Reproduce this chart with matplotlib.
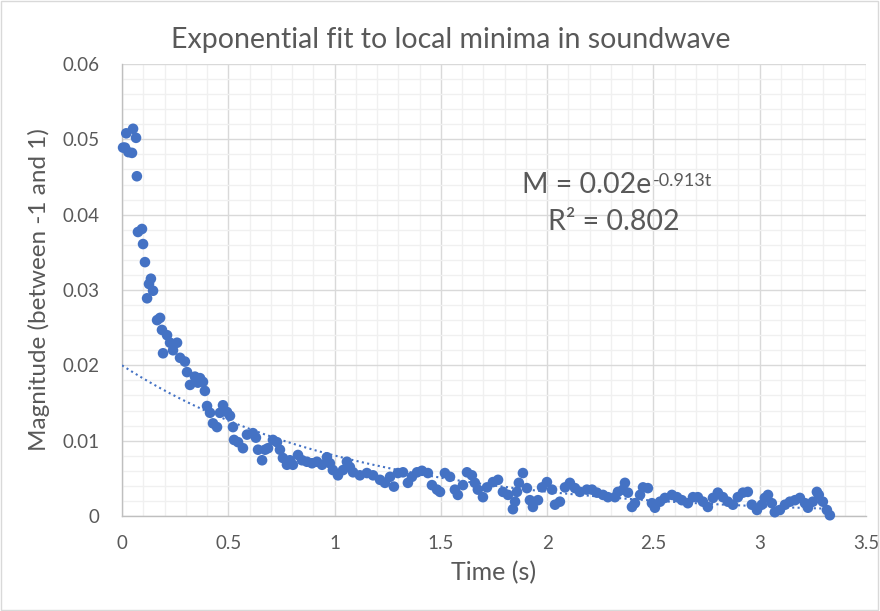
import numpy as np
import matplotlib
matplotlib.use("Agg")
import matplotlib.pyplot as plt
from matplotlib.ticker import MultipleLocator, FixedLocator
from matplotlib.patches import Rectangle

plt.rcParams['font.family'] = ['Lato', 'DejaVu Sans']

# local minima: time (s), magnitude
time_s = [0.005, 0.014, 0.020, 0.030, 0.047, 0.052, 0.066, 0.070, 0.075, 0.094,
          0.099, 0.108, 0.118, 0.127, 0.136, 0.146, 0.165, 0.179, 0.188, 0.193,
          0.212, 0.226, 0.240, 0.259, 0.273, 0.296, 0.306, 0.320, 0.343, 0.357,
          0.367, 0.381, 0.390, 0.400, 0.414, 0.428, 0.447, 0.461, 0.475, 0.494,
          0.508, 0.522, 0.527, 0.546, 0.569, 0.588, 0.616, 0.630, 0.640, 0.659,
          0.673, 0.687, 0.710, 0.729, 0.743, 0.757, 0.776, 0.790, 0.804, 0.828,
          0.847, 0.870, 0.894, 0.917, 0.941, 0.964, 0.978, 0.992, 1.016, 1.040,
          1.058, 1.072, 1.087, 1.119, 1.152, 1.181, 1.214, 1.237, 1.261, 1.279,
          1.298, 1.322, 1.345, 1.364, 1.388, 1.411, 1.439, 1.458, 1.482, 1.496,
          1.519, 1.543, 1.566, 1.580, 1.604, 1.623, 1.646, 1.660, 1.674, 1.698,
          1.717, 1.745, 1.769, 1.792, 1.816, 1.839, 1.849, 1.858, 1.867, 1.886,
          1.905, 1.919, 1.933, 1.957, 1.976, 1.999, 2.023, 2.037, 2.060, 2.084,
          2.107, 2.131, 2.154, 2.187, 2.211, 2.234, 2.263, 2.286, 2.319, 2.333,
          2.357, 2.366, 2.380, 2.399, 2.413, 2.437, 2.451, 2.474, 2.493, 2.507,
          2.531, 2.554, 2.587, 2.611, 2.634, 2.662, 2.686, 2.709, 2.733, 2.756,
          2.780, 2.803, 2.827, 2.850, 2.874, 2.897, 2.921, 2.944, 2.963, 2.987,
          3.010, 3.024, 3.039, 3.057, 3.071, 3.095, 3.119, 3.142, 3.166, 3.189,
          3.213, 3.227, 3.250, 3.269, 3.278, 3.297, 3.316, 3.330]
magnitude = [0.0489, 0.0489, 0.0508, 0.0483, 0.0482, 0.0514, 0.0502, 0.0451, 0.0377, 0.0381,
             0.0361, 0.0337, 0.0289, 0.0308, 0.0315, 0.0299, 0.0260, 0.0263, 0.0247, 0.0216,
             0.0240, 0.0230, 0.0220, 0.0230, 0.0210, 0.0205, 0.0191, 0.0174, 0.0185, 0.0177,
             0.0183, 0.0178, 0.0166, 0.0146, 0.0137, 0.0123, 0.0118, 0.0137, 0.0147, 0.0138,
             0.0133, 0.0118, 0.0101, 0.0098, 0.0090, 0.0108, 0.0110, 0.0104, 0.0088, 0.0074,
             0.0088, 0.0090, 0.0101, 0.0098, 0.0088, 0.0077, 0.0068, 0.0074, 0.0068, 0.0081,
             0.0074, 0.0072, 0.0070, 0.0072, 0.0068, 0.0078, 0.0070, 0.0061, 0.0054, 0.0061,
             0.0072, 0.0065, 0.0058, 0.0054, 0.0057, 0.0054, 0.0048, 0.0044, 0.0052, 0.0039,
             0.0057, 0.0058, 0.0044, 0.0052, 0.0058, 0.0060, 0.0057, 0.0041, 0.0035, 0.0032,
             0.0057, 0.0052, 0.0035, 0.0028, 0.0041, 0.0058, 0.0054, 0.0044, 0.0035, 0.0025,
             0.0038, 0.0045, 0.0048, 0.0032, 0.0028, 0.0009, 0.0019, 0.0032, 0.0044, 0.0057,
             0.0037, 0.0021, 0.0012, 0.0021, 0.0038, 0.0045, 0.0035, 0.0015, 0.0019, 0.0038,
             0.0044, 0.0037, 0.0032, 0.0035, 0.0035, 0.0031, 0.0028, 0.0025, 0.0025, 0.0032,
             0.0035, 0.0044, 0.0031, 0.0012, 0.0017, 0.0028, 0.0038, 0.0037, 0.0017, 0.0011,
             0.0019, 0.0024, 0.0028, 0.0025, 0.0021, 0.0017, 0.0025, 0.0025, 0.0019, 0.0012,
             0.0024, 0.0031, 0.0025, 0.0019, 0.0015, 0.0025, 0.0031, 0.0032, 0.0015, 0.0008,
             0.0015, 0.0024, 0.0028, 0.0017, 0.0005, 0.0008, 0.0015, 0.0019, 0.0021, 0.0024,
             0.0017, 0.0011, 0.0019, 0.0032, 0.0028, 0.0019, 0.0008, 0.0001]

# exponential trendline coefficients (as reported on chart)
fit_a = 0.02
fit_k = -0.913
fit_r2 = 0.802

x_ticks = [0, 0.5, 1, 1.5, 2, 2.5, 3, 3.5]
x_tick_labels = ['0', '0.5', '1', '1.5', '2', '2.5', '3', '3.5']
y_ticks = [0, 0.01, 0.02, 0.03, 0.04, 0.05, 0.06]
y_tick_labels = ['0', '0.01', '0.02', '0.03', '0.04', '0.05', '0.06']

gray = '#595959'
blue = '#4472C4'

fig = plt.figure(figsize=(8.8, 6.11), dpi=100)
ax = fig.add_axes([122/880, 1-516/611, (866-122)/880, (516-64)/611])

ax.set_xlim(0, 3.5)
ax.set_ylim(0, 0.06)
ax.xaxis.set_major_locator(FixedLocator(x_ticks))
ax.yaxis.set_major_locator(FixedLocator(y_ticks))
ax.set_xticklabels(x_tick_labels)
ax.set_yticklabels(y_tick_labels)
ax.xaxis.set_minor_locator(MultipleLocator(0.1))
ax.yaxis.set_minor_locator(MultipleLocator(0.002))
ax.grid(which='major', color='#d9d9d9', linewidth=1.0, zorder=0)
ax.grid(which='minor', color='#f0f0f0', linewidth=1.0, zorder=0)
ax.set_axisbelow(True)
ax.tick_params(which='both', length=0, labelsize=13.5, labelcolor=gray)
ax.tick_params(axis='y', pad=16)
ax.tick_params(axis='x', pad=14)
for s in ['top', 'right']:
    ax.spines[s].set_visible(False)
for s in ['left', 'bottom']:
    ax.spines[s].set_color('#bfbfbf')
    ax.spines[s].set_linewidth(1.0)

ax.scatter(time_s, magnitude, s=58, color=blue, edgecolors='none', zorder=3, clip_on=False)

t_fit = np.linspace(0, max(time_s), 300)
ax.plot(t_fit, fit_a * np.exp(fit_k * t_fit), linestyle=(0, (1, 1.6)), color=blue,
        linewidth=1.5, zorder=4)

ax.set_xlabel('Time (s)', fontsize=18, color=gray, labelpad=6)
ax.set_ylabel('Magnitude (between -1 and 1)', fontsize=17.5, color=gray, labelpad=9)

fig.text(451/880, 1-40/611, 'Exponential fit to local minima in soundwave',
         ha='center', va='center', fontsize=20.5, color=gray)

# equation: base text plus superscript exponent
base = fig.text(522/880, 1-185/611, f'M = {fit_a:g}e', ha='left', va='center',
                fontsize=20.5, color=gray)
ax.annotate(f'{fit_k:g}t', xy=(1.0, 1.0), xycoords=base, xytext=(1, -1),
            textcoords='offset points', ha='left', va='top', fontsize=13, color=gray,
            annotation_clip=False)
fig.text(614/880, 1-222/611, f'R² = {fit_r2:g}', ha='center', va='center',
         fontsize=20.5, color=gray)

fig.patches.append(Rectangle((0.001, 0.001), 0.997, 0.997, transform=fig.transFigure,
                             fill=False, edgecolor='#d9d9d9', linewidth=1))

fig.savefig('out.png', dpi=100)
